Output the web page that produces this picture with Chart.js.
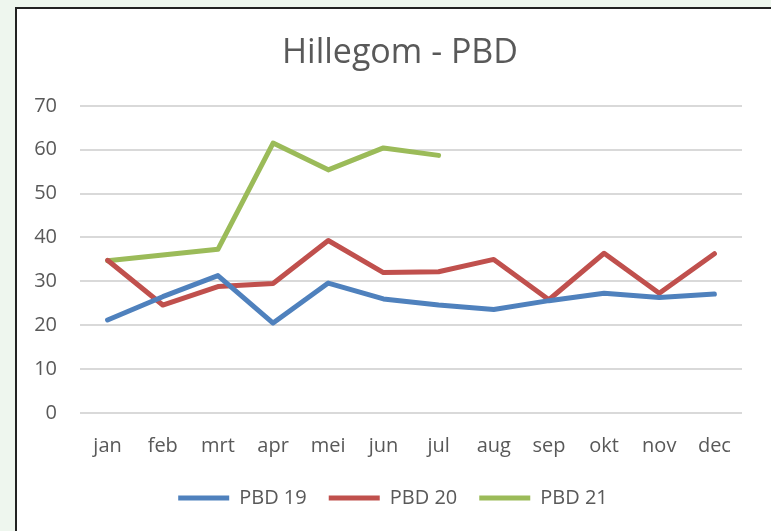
<!DOCTYPE html>
<html>
<head>
<meta charset="utf-8">
<script src="https://cdn.jsdelivr.net/npm/chart.js@4.4.1/dist/chart.umd.min.js"></script>
<style>
  html, body { margin: 0; padding: 0; width: 771px; height: 531px; overflow: hidden; background: #eef6ee; }
  #frame { position: absolute; left: 15px; top: 7px; width: 800px; height: 600px; background: #ffffff; border: 2px solid #222222; box-sizing: border-box; }
  #wrap { position: absolute; left: 0; top: 0; width: 771px; height: 531px; }
</style>
</head>
<body>
<div id="frame"></div>
<div id="wrap"><canvas id="c" width="771" height="531"></canvas></div>
<script>
const categories = ['jan','feb','mrt','apr','mei','jun','jul','aug','sep','okt','nov','dec'];
const pbd19 = [21.2, 26.5, 31.3, 20.5, 29.6, 26.0, 24.6, 23.6, 25.6, 27.3, 26.3, 27.1];
const pbd20 = [34.8, 24.6, 28.8, 29.5, 39.3, 32.0, 32.2, 35.0, 25.8, 36.4, 27.3, 36.3];
const pbd21 = [34.7, 36.0, 37.3, 61.5, 55.4, 60.4, 58.7, null, null, null, null, null];
const seriesNames = ['PBD 19', 'PBD 20', 'PBD 21'];
const yTicks = [0, 10, 20, 30, 40, 50, 60, 70];

const colors = ['#4f81bd', '#c0504d', '#9bbb59'];
const font = "'Open Sans', 'DejaVu Sans', sans-serif";

function ds(label, data, color) {
  return {
    label, data,
    borderColor: color, backgroundColor: color,
    borderWidth: 5, pointRadius: 0, pointHoverRadius: 0,
    tension: 0, borderCapStyle: 'round', borderJoinStyle: 'round',
    spanGaps: false, pointStyle: 'line'
  };
}

const shiftBoxes = {
  id: 'shiftBoxes',
  afterLayout(chart) {
    if (chart.legend) { chart.legend.left += 12; chart.legend.right += 12; }
    if (chart.titleBlock) { chart.titleBlock.left += 19; chart.titleBlock.right += 19; }
  }
};

new Chart(document.getElementById('c'), {
  type: 'line',
  data: {
    labels: categories,
    datasets: [
      ds(seriesNames[0], pbd19, colors[0]),
      ds(seriesNames[1], pbd20, colors[1]),
      ds(seriesNames[2], pbd21, colors[2])
    ]
  },
  plugins: [shiftBoxes],
  options: {
    responsive: false,
    animation: false,
    events: [],
    layout: { padding: { left: 20, right: 29, top: 0, bottom: 13 } },
    plugins: {
      title: {
        display: true, text: 'Hillegom - PBD', color: '#595959',
        font: { family: font, size: 34, weight: 'normal' },
        padding: { top: 33, bottom: 32 }
      },
      legend: {
        position: 'bottom',
        labels: {
          color: '#595959', font: { family: font, size: 20 },
          usePointStyle: true, pointStyleWidth: 51, boxHeight: 20,
          padding: 22
        }
      },
      tooltip: { enabled: false }
    },
    scales: {
      x: {
        offset: true,
        grid: { display: false },
        border: { display: false },
        ticks: { color: '#595959', font: { family: font, size: 20 }, padding: 13, maxRotation: 0 },
        afterFit: (s) => { s.height = 53; }
      },
      y: {
        min: 0, max: 70,
        afterBuildTicks: (s) => { s.ticks = yTicks.map(v => ({ value: v })); },
        grid: { color: '#d9d9d9', lineWidth: 2, drawTicks: false },
        border: { display: false },
        ticks: { color: '#595959', font: { family: font, size: 20 }, padding: 23 },
        afterFit: (s) => { s.width = 60; }
      }
    }
  }
});
</script>
</body>
</html>
